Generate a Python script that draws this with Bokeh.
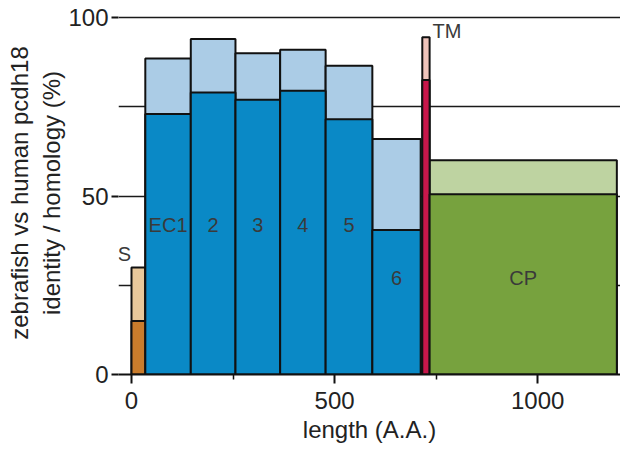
from bokeh.plotting import figure
from bokeh.models import FixedTicker, Range1d, ColumnDataSource, Label
from bokeh.core.properties import value
from bokeh.embed import file_html
from bokeh.resources import INLINE

# ---- data ----
domains = ["S", "EC1", "2", "3", "4", "5", "6", "TM", "CP"]
starts = [0, 34, 146, 256, 366, 478, 593, 716, 734]
ends = [34, 146, 256, 366, 478, 593, 712, 734, 1195]
identity = [15, 73, 79, 77, 79.5, 71.5, 40.5, 82.5, 50.5]
homology = [30, 88.5, 94, 90, 91, 86.5, 66, 94.5, 60]
dark_colors = ["#c97c2c", "#0a89c6", "#0a89c6", "#0a89c6", "#0a89c6", "#0a89c6", "#0a89c6", "#c8174b", "#77a23e"]
light_colors = ["#e8c89b", "#abcce6", "#abcce6", "#abcce6", "#abcce6", "#abcce6", "#abcce6", "#efc4bb", "#bed3a1"]
x_ticks = [0, 500, 1000]
x_minor = [250, 750]
y_ticks = [0, 50, 100]
y_minor = [25, 75]

FONT = "Liberation Sans"

src = ColumnDataSource(dict(left=starts, right=ends, ident=identity, homo=homology,
                            dark=dark_colors, light=light_colors, name=domains))

p = figure(width=620, height=447,
           x_range=Range1d(-32, 1204), y_range=Range1d(0, 101.7),
           output_backend="svg", toolbar_location=None,
           min_border_left=118, min_border_right=0, min_border_top=11, min_border_bottom=73)
p.outline_line_color = None
p.background_fill_color = "white"
p.border_fill_color = "white"

p.xgrid.grid_line_color = None
p.ygrid.ticker = FixedTicker(ticks=[25, 50, 75, 100])
p.ygrid.grid_line_color = "#1a1a1a"
p.ygrid.grid_line_width = 1.6

p.quad(left="left", right="right", bottom=0, top="homo", source=src,
       fill_color="light", line_color="#111111", line_width=2)
p.quad(left="left", right="right", bottom=0, top="ident", source=src,
       fill_color="dark", line_color="#111111", line_width=2)

# domain labels
lab_color = "#3a3a3a"
for i, name in enumerate(domains):
    cx = (starts[i] + ends[i]) / 2
    if name == "S":
        lab = Label(x=starts[i], y=homology[i], text=name, x_offset=-7, y_offset=2,
                    text_align="center", text_baseline="bottom")
    elif name == "TM":
        lab = Label(x=ends[i], y=homology[i], text=name, x_offset=3, y_offset=6,
                    text_align="left", text_baseline="middle")
    elif name in ("6", "CP"):
        lab = Label(x=cx, y=27, text=name, text_align="center", text_baseline="middle")
    else:
        lab = Label(x=cx, y=42, text=name, text_align="center", text_baseline="middle")
    lab.text_font = FONT
    lab.text_font_size = "20px"
    lab.text_color = lab_color
    p.add_layout(lab)

# x axis
xa = p.xaxis[0]
xa.ticker = FixedTicker(ticks=x_ticks, minor_ticks=x_minor)
xa.axis_label = "length (A.A.)"
xa.axis_line_width = 2
xa.axis_line_color = "#111111"
xa.major_tick_in = 0
xa.major_tick_out = 9
xa.major_tick_line_width = 2
xa.major_tick_line_color = "#111111"
xa.minor_tick_in = 0
xa.minor_tick_out = 5
xa.minor_tick_line_width = 1.5
xa.minor_tick_line_color = "#111111"
xa.major_label_text_font = FONT
xa.major_label_text_font_size = "24px"
xa.major_label_text_color = "#222222"
xa.major_label_standoff = 8
xa.axis_label_text_font = FONT
xa.axis_label_text_font_size = "24px"
xa.axis_label_text_font_style = "normal"
xa.axis_label_text_color = "#222222"
xa.axis_label_standoff = 4

# y axis
ya = p.yaxis[0]
ya.ticker = FixedTicker(ticks=y_ticks, minor_ticks=y_minor)
ya.axis_label = "zebrafish vs human pcdh18\nidentity / homology (%)"
ya.axis_line_color = None
ya.major_tick_in = 0
ya.major_tick_out = 7
ya.major_tick_line_width = 2
ya.major_tick_line_color = "#111111"
ya.minor_tick_in = 0
ya.minor_tick_out = 0
ya.major_label_text_font = FONT
ya.major_label_text_font_size = "24px"
ya.major_label_text_color = "#222222"
ya.major_label_standoff = 3
ya.axis_label_text_font = FONT
ya.axis_label_text_font_size = "24px"
ya.axis_label_text_font_style = "normal"
ya.axis_label_text_color = "#222222"
ya.axis_label_standoff = 0

open("out.html", "w").write(file_html(p, INLINE))
